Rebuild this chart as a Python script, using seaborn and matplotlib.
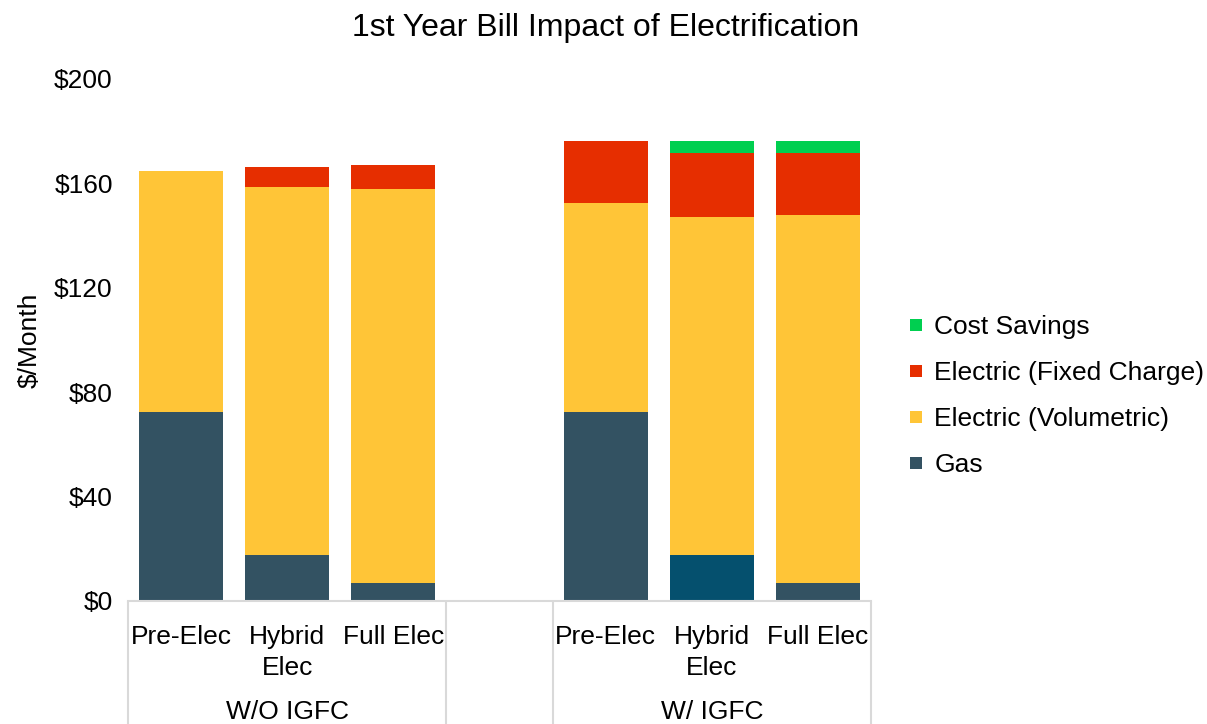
import matplotlib
matplotlib.use("Agg")
import matplotlib.pyplot as plt
import matplotlib.transforms as mtransforms
from matplotlib.lines import Line2D
import seaborn as sns
import pandas as pd

# ---- data ----
groups = ["W/O IGFC", "W/ IGFC"]
scenarios = ["Pre-Elec", "Hybrid\nElec", "Full Elec"]
gas = [72.4, 17.6, 6.9, 72.4, 17.6, 6.9]
elec_vol = [92.2, 140.9, 150.8, 80.1, 129.5, 141.0]
elec_fixed = [0.0, 7.6, 9.2, 23.7, 24.5, 23.7]
cost_savings = [0.0, 0.0, 0.0, 0.0, 4.6, 4.6]
ytick_vals = [0, 40, 80, 120, 160, 200]
ytick_labels = ["$0", "$40", "$80", "$120", "$160", "$200"]
series_names = ["Cost Savings", "Electric (Fixed Charge)", "Electric (Volumetric)", "Gas"]

# ---- styling ----
C_GAS = "#335262"
C_GAS_ALT = "#05506E"
C_VOL = "#FFC537"
C_FIX = "#E62E00"
C_SAV = "#00CF50"
GRID = "#D9D9D9"

sns.set_theme(style="white")
plt.rcParams["font.family"] = ["Liberation Sans", "DejaVu Sans"]
plt.rcParams["text.color"] = "#000000"

slots = [f"{g}|{s}" for g in groups for s in scenarios]
order = slots[:3] + ["gap"] + slots[3:]

df = pd.DataFrame({"slot": slots, "gas": gas, "vol": elec_vol,
                   "fixed": elec_fixed, "sav": cost_savings})
df["t_gas"] = df["gas"]
df["t_vol"] = df["t_gas"] + df["vol"]
df["t_fix"] = df["t_vol"] + df["fixed"]
df["t_sav"] = df["t_fix"] + df["sav"]

fig = plt.figure(figsize=(12.07, 7.24), dpi=100)
W, H = 1207, 724
ax_l, ax_r, ax_t, ax_b = 128, 871, 79, 601
ax = fig.add_axes([ax_l / W, 1 - ax_b / H, (ax_r - ax_l) / W, (ax_b - ax_t) / H])

bw = 0.79
sns.barplot(data=df, x="slot", y="t_sav", order=order, color=C_SAV, width=bw,
            saturation=1, ax=ax, errorbar=None)
sns.barplot(data=df, x="slot", y="t_fix", order=order, color=C_FIX, width=bw,
            saturation=1, ax=ax, errorbar=None)
sns.barplot(data=df, x="slot", y="t_vol", order=order, color=C_VOL, width=bw,
            saturation=1, ax=ax, errorbar=None)
gas_pal = {s: C_GAS for s in order}
gas_pal[slots[4]] = C_GAS_ALT
sns.barplot(data=df, x="slot", y="t_gas", order=order, hue="slot", hue_order=order,
            palette=gas_pal, width=bw, saturation=1, ax=ax, errorbar=None,
            legend=False, dodge=False)

for p in ax.patches:
    p.set_linewidth(0)

ax.set_xlim(-0.5, len(order) - 0.5)
ax.set_ylim(0, 200)
ax.set_yticks(ytick_vals)
ax.set_yticklabels(ytick_labels)
ax.tick_params(axis="y", length=0, pad=11, labelsize=19, labelcolor="#000000")
ax.set_xticks([])
ax.set_xlabel("")
ax.set_ylabel("$/Month", fontsize=19, color="#000000")
ax.yaxis.set_label_coords(-0.116, 0.5)
for s in ["left", "right", "top"]:
    ax.spines[s].set_visible(False)
ax.spines["bottom"].set_color(GRID)
ax.spines["bottom"].set_linewidth(1.5)

# multi-level category axis
trans = mtransforms.blended_transform_factory(ax.transData, ax.transAxes)
ah = ax_b - ax_t
y_bottom = -(H - ax_b) / ah
for xv in [-0.5, 2.5, 3.5, 6.5]:
    ax.plot([xv, xv], [0, y_bottom], transform=trans, color=GRID, lw=1.5,
            clip_on=False, solid_capstyle="butt")

xpos = [0, 1, 2, 4, 5, 6]
labels = scenarios + scenarios
for xv, lab in zip(xpos, labels):
    ax.text(xv, -(625 - ax_b) / ah, lab, transform=trans, ha="center", va="top",
            fontsize=19, linespacing=1.35, color="#000000")
for xv, g in zip([1, 5], groups):
    ax.text(xv, -(712 - ax_b) / ah, g, transform=trans, ha="center", va="center",
            fontsize=19, color="#000000")

fig.text(606 / W, 1 - 28 / H, "1st Year Bill Impact of Electrification",
         ha="center", va="center", fontsize=23, color="#000000")

handles = [Line2D([], [], marker="s", linestyle="none", markersize=9,
                  markerfacecolor=c, markeredgewidth=0)
           for c in [C_SAV, C_FIX, C_VOL, C_GAS]]
leg = fig.legend(handles, series_names, loc="center left",
                 bbox_to_anchor=(908 / W, 1 - 396 / H), frameon=False, fontsize=19,
                 handlelength=0.6, handletextpad=0.4, labelspacing=0.83,
                 borderaxespad=0, borderpad=0)
for t in leg.get_texts():
    t.set_color("#000000")

fig.savefig("out.png", dpi=100, facecolor="white")
